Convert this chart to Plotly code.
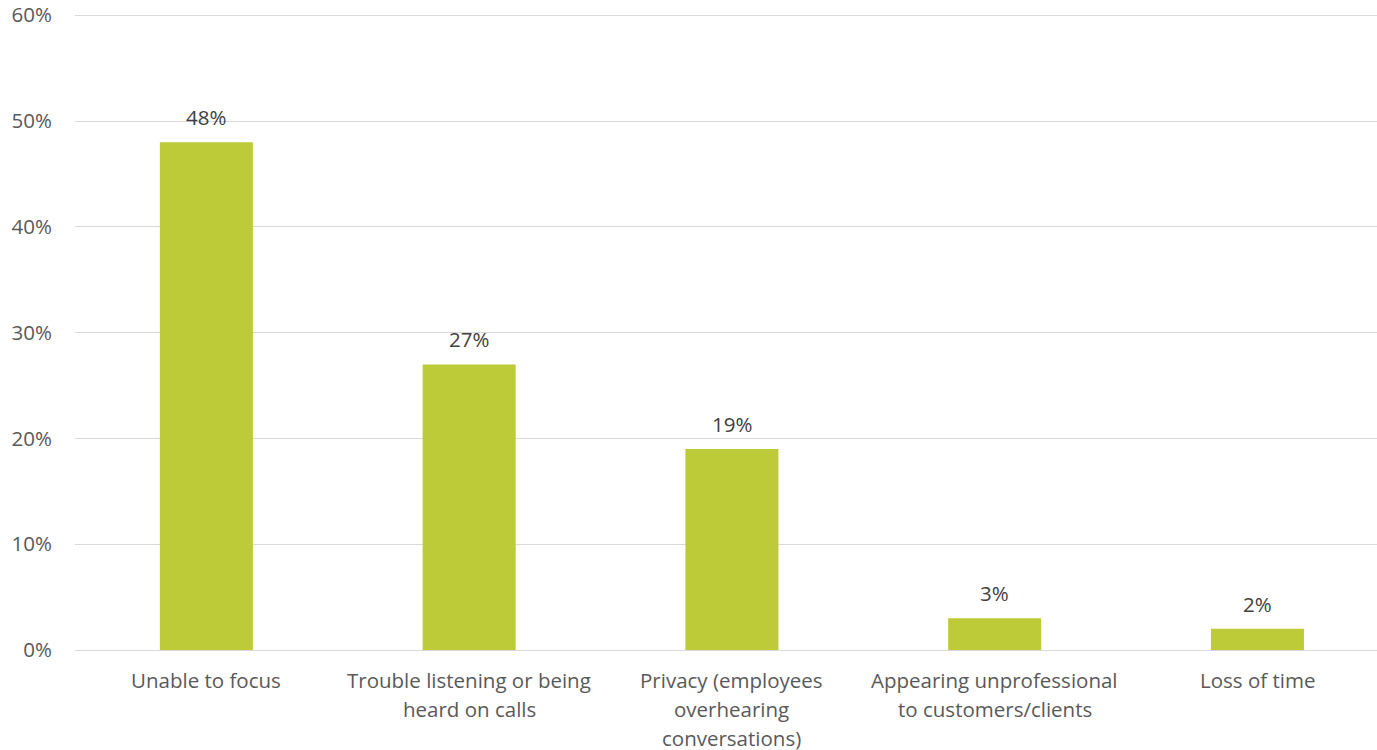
import plotly.graph_objects as go

categories = [
    "Unable to focus",
    "Trouble listening or being<br>heard on calls",
    "Privacy (employees<br>overhearing<br>conversations)",
    "Appearing unprofessional<br>to customers/clients",
    "Loss of time",
]
values = [48, 27, 19, 3, 2]
value_labels = ["48%", "27%", "19%", "3%", "2%"]
y_ticks = [0, 10, 20, 30, 40, 50, 60]
y_tick_labels = ["0%", "10%", "20%", "30%", "40%", "50%", "60%"]

FONT = "Open Sans"
FS = 20.5
BAR_COLOR = "#BECB38"
AXIS_TEXT = "#595959"
LABEL_TEXT = "#404040"

x_idx = list(range(len(categories)))

fig = go.Figure()
fig.add_trace(go.Bar(
    x=x_idx, y=values, width=0.354,
    marker=dict(color=BAR_COLOR, line=dict(width=0)),
    hoverinfo="skip",
))

annotations = []
for i, (v, lab) in enumerate(zip(values, value_labels)):
    annotations.append(dict(
        x=i, y=v, xref="x", yref="y", text=lab, showarrow=False,
        yanchor="middle", yshift=25,
        font=dict(family=FONT, size=FS, color=LABEL_TEXT),
    ))
for i, cat in enumerate(categories):
    for j, line in enumerate(cat.split("<br>")):
        annotations.append(dict(
            x=i, y=0, xref="x", yref="y", text=line, showarrow=False,
            yanchor="middle", yshift=-30 - 29 * j,
            font=dict(family=FONT, size=FS, color=AXIS_TEXT),
        ))

fig.update_layout(
    width=1377, height=750,
    margin=dict(l=75, r=0, t=10, b=100),
    paper_bgcolor="white", plot_bgcolor="white",
    showlegend=False,
    annotations=annotations,
    xaxis=dict(range=[-0.5, 4.455], showticklabels=False, showgrid=False,
               zeroline=False, showline=False, ticks=""),
    yaxis=dict(range=[0, 60.5], tickvals=y_ticks, ticktext=y_tick_labels,
               showgrid=True, gridcolor="#D9D9D9", gridwidth=1.3,
               zeroline=True, zerolinecolor="#D9D9D9", zerolinewidth=1.3,
               showline=False, ticks="", ticklabelstandoff=22,
               tickfont=dict(family=FONT, size=FS, color=AXIS_TEXT)),
)

fig.write_html("out.html", config={"displayModeBar": False},
               post_script="document.body.style.margin='0';document.body.style.overflow='hidden';")
